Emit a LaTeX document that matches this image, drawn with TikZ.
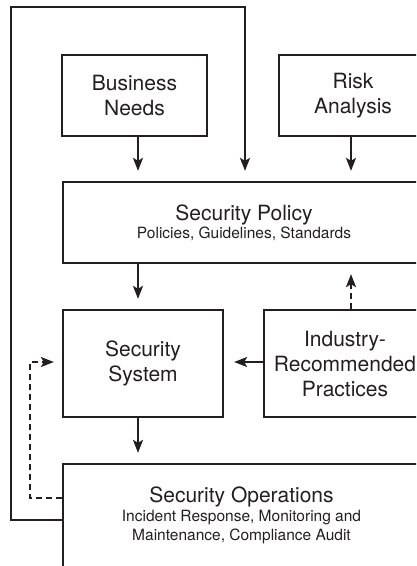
\documentclass[tikz,border=0pt]{standalone}
\usepackage{fontspec}
\setmainfont{TeX Gyre Heros}
\usetikzlibrary{arrows.meta}
\definecolor{ink}{HTML}{231F20}
\begin{document}
\begin{tikzpicture}[x=1pt,y=-1pt,
  box/.style={draw=ink, text=ink, line width=2.3pt, inner sep=0pt, align=center,
    font=\fontsize{21}{25}\selectfont},
  title/.style={text=ink, inner sep=0pt, font=\fontsize{21}{25}\selectfont},
  sub/.style={text=ink, inner sep=0pt, align=center, font=\fontsize{15.5}{19}\selectfont},
  arr/.style={draw=ink, line width=2.2pt, -{Stealth[length=13pt,width=10pt,inset=3pt]}, shorten >=10pt},
  dsh/.style={arr, dash pattern=on 6pt off 4pt}]
\useasboundingbox (0,0) rectangle (416,566);
\clip (0,0) rectangle (416,566);

\coordinate (xa) at (138,0);
\coordinate (xb) at (351,0);

\node[box, minimum width=145pt, minimum height=81pt] (bn) at (134.5,95.5) {Business\\Needs};
\node[box, minimum width=148pt, minimum height=81pt] (ra) at (353,95.5) {Risk\\Analysis};
\node[box, minimum width=362pt, minimum height=81pt] (sp) at (244,222.5) {};
\node[title] (spt) at (244,214.5) {Security Policy};
\node[sub] (sps) at (244,234) {Policies, Guidelines, Standards};
\node[box, minimum width=160pt, minimum height=107pt] (ss) at (143,363.5) {Security\\System};
\node[box, minimum width=162pt, minimum height=107pt] (ir) at (345,363.5) {Industry-\\Recommended\\Practices};
\node[box, minimum width=358pt, minimum height=156pt] (so) at (242,542) {};
\node[title] (sot) at (241.5,496.5) {Security Operations};
\node[sub] (sos) at (241.5,527.5) {Incident Response, Monitoring and\\Maintenance, Compliance Audit};

\draw[arr] (bn.south -| xa) -- (sp.north -| xa);
\draw[arr] (ra.south -| xb) -- (sp.north -| xb);
\draw[arr] (sp.south -| xa) -- (ss.north -| xa);
\draw[arr] (ss.south -| xa) -- (so.north -| xa);
\draw[arr] (ir.west |- 0,362) -- (ss.east |- 0,362);
\draw[dsh] (ir.north -| xb) -- (sp.south -| xb);

\coordinate (f1) at (11,520);
\coordinate (f2) at (11,7);
\coordinate (f3) at (245,7);
\draw[arr] (so.west |- f1) -- (f1) -- (f2) -- (f3) -- (sp.north -| f3);

\coordinate (d1) at (30,498);
\coordinate (d2) at (30,362);
\draw[dsh, shorten >=8pt] (so.west |- d1) -- (d1) -- (d2) -- (ss.west |- d2);
\end{tikzpicture}
\end{document}
